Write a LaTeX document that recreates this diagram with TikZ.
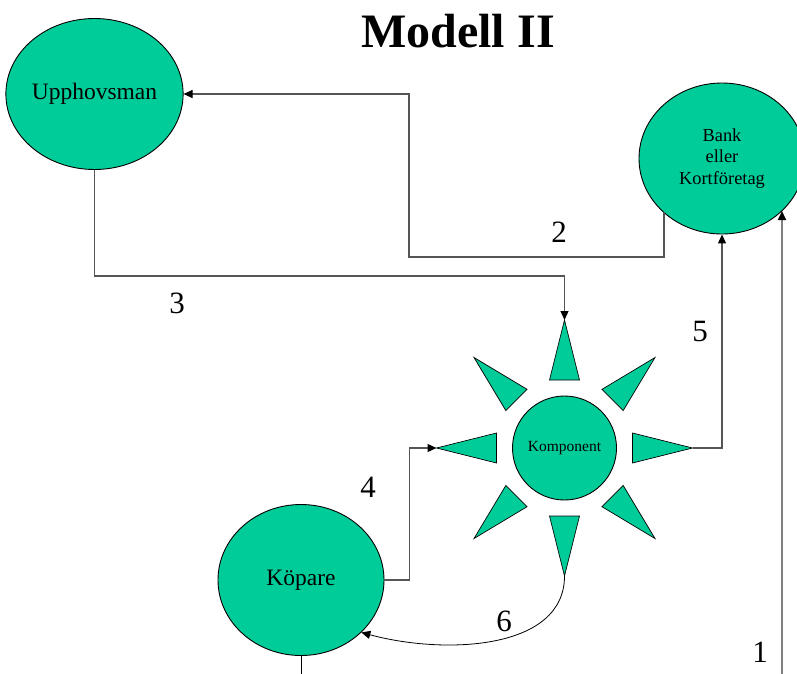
\documentclass[tikz,border=0pt]{standalone}
\usepackage{fontspec}
\setmainfont{Liberation Serif}
\usetikzlibrary{shapes.geometric,arrows.meta,calc}
\definecolor{compgreen}{RGB}{0,204,153}
\definecolor{linegray}{RGB}{85,85,85}
\definecolor{lightline}{RGB}{128,128,128}
\tikzset{
  actor/.style={ellipse,draw=black,line width=0.9pt,fill=compgreen,minimum width=166pt,minimum height=151pt,inner sep=0pt,font=\fontsize{23.5}{28}\selectfont},
  spike/.style={fill=compgreen,draw=black,line width=0.7pt,line join=miter},
  conn/.style={draw=linegray,line width=1.1pt,-{Triangle[length=9pt,width=8pt,color=black]}},
  plain/.style={draw=linegray,line width=1.1pt},
  num/.style={font=\fontsize{31}{34}\selectfont,inner sep=0pt}
}
\begin{document}
\begin{tikzpicture}[x=1pt,y=-1pt]
\useasboundingbox (0,0) rectangle (797,673);
% title
\node[font=\fontsize{48}{52}\selectfont\bfseries,anchor=base] (title) at (458,47) {Modell II};
% nodes
\node[actor] (upp) at (94.5,94) {Upphovsman};
\node[actor,font=\fontsize{18.4}{21.5}\selectfont,align=center] (bank) at (722,158.5) {Bank\\eller\\Kortföretag};
\node[actor] (kop) at (301,580) {Köpare};
\node[circle,draw=black,line width=0.9pt,fill=compgreen,minimum size=104pt,inner sep=0pt,font=\fontsize{15.5}{18}\selectfont] (komp) at (564.5,448) {Komponent};
% spikes
\foreach \a in {0,45,...,315}{
  \draw[spike] ($(komp.center)+(\a:128)$) -- ($(komp.center)+(\a:68)+(\a+90:15)$) -- ($(komp.center)+(\a:68)+(\a-90:15)$) -- cycle;
}
\coordinate (ktop) at ($(komp.center)+(0,-128)$);
\coordinate (kbot) at ($(komp.center)+(0,128)$);
\coordinate (kleft) at ($(komp.center)+(-128,0)$);
\coordinate (kright) at ($(komp.center)+(128,0)$);
% connector 2
\coordinate (b2) at (664,212);
\draw[conn] (b2) |- (409,257) |- (upp.east);
% connector 3
\draw[conn] (upp.south) -- (upp.south |- 0,276) -| (ktop);
% connector 4
\draw[conn] (kop.east) -- ++(25,0) |- (kleft);
% connector 5
\draw[conn] (kright) -| (bank.south);
% connector 6
\draw[conn,draw=black,line width=0.8pt] (kbot) .. controls (564.5,650) and (445,655) .. (kop.-41);
% connector 1
\coordinate (p1) at (782,680);
\coordinate (b1) at (782,211);
\draw[conn,draw=lightline,line width=1.8pt] (p1) -- (b1);
% line from Köpare downward
\coordinate (p0) at (301,680);
\draw[plain,draw=black,line width=0.9pt] (kop.south) -- (p0);
% labels
\node[num] (l2) at (559,232) {2};
\node[num] (l3) at (177,303) {3};
\node[num] (l5) at (700,331) {5};
\node[num] (l4) at (368,487) {4};
\node[num] (l6) at (504,621) {6};
\node[num] (l1) at (760,652) {1};
\end{tikzpicture}
\end{document}
